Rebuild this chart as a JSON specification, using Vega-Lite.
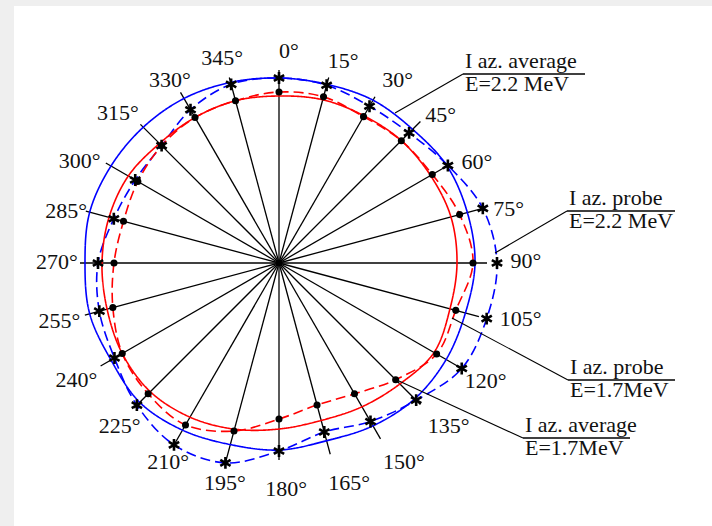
{
  "$schema": "https://vega.github.io/schema/vega-lite/v6.json",
  "width": 698,
  "height": 520,
  "autosize": {"type": "none"},
  "padding": {"left": 14, "top": 6, "right": 0, "bottom": 0},
  "background": "#efefef",
  "config": {"view": {"stroke": null, "fill": "white"}, "text": {"font": "Liberation Serif"}},
  "datasets": {
    "curves": [
      {"series":"avg 2.2","angle":0,"r":1.85},{"series":"avg 2.2","angle":15,"r":1.85},{"series":"avg 2.2","angle":30,"r":1.88},{"series":"avg 2.2","angle":45,"r":1.89},{"series":"avg 2.2","angle":60,"r":1.94},{"series":"avg 2.2","angle":75,"r":1.95},{"series":"avg 2.2","angle":90,"r":1.96},{"series":"avg 2.2","angle":105,"r":1.93},{"series":"avg 2.2","angle":120,"r":1.93},{"series":"avg 2.2","angle":135,"r":1.92},{"series":"avg 2.2","angle":150,"r":1.88},{"series":"avg 2.2","angle":165,"r":1.84},{"series":"avg 2.2","angle":180,"r":1.87},{"series":"avg 2.2","angle":195,"r":1.88},{"series":"avg 2.2","angle":210,"r":1.93},{"series":"avg 2.2","angle":225,"r":1.97},{"series":"avg 2.2","angle":240,"r":1.94},{"series":"avg 2.2","angle":255,"r":1.96},{"series":"avg 2.2","angle":270,"r":1.94},{"series":"avg 2.2","angle":285,"r":1.96},{"series":"avg 2.2","angle":300,"r":1.94},{"series":"avg 2.2","angle":315,"r":1.92},{"series":"avg 2.2","angle":330,"r":1.90},{"series":"avg 2.2","angle":345,"r":1.87},
      {"series":"probe 2.2","angle":0,"r":1.85},{"series":"probe 2.2","angle":15,"r":1.84},{"series":"probe 2.2","angle":30,"r":1.81},{"series":"probe 2.2","angle":45,"r":1.84},{"series":"probe 2.2","angle":60,"r":1.95},{"series":"probe 2.2","angle":75,"r":2.11},{"series":"probe 2.2","angle":90,"r":2.18},{"series":"probe 2.2","angle":105,"r":2.15},{"series":"probe 2.2","angle":120,"r":2.11},{"series":"probe 2.2","angle":135,"r":1.94},{"series":"probe 2.2","angle":150,"r":1.83},{"series":"probe 2.2","angle":165,"r":1.75},{"series":"probe 2.2","angle":180,"r":1.88},{"series":"probe 2.2","angle":195,"r":2.07},{"series":"probe 2.2","angle":210,"r":2.10},{"series":"probe 2.2","angle":225,"r":2.01},{"series":"probe 2.2","angle":240,"r":1.90},{"series":"probe 2.2","angle":255,"r":1.86},{"series":"probe 2.2","angle":270,"r":1.81},{"series":"probe 2.2","angle":285,"r":1.71},{"series":"probe 2.2","angle":300,"r":1.66},{"series":"probe 2.2","angle":315,"r":1.66},{"series":"probe 2.2","angle":330,"r":1.77},{"series":"probe 2.2","angle":345,"r":1.85},
      {"series":"avg 1.7","angle":0,"r":1.67},{"series":"avg 1.7","angle":15,"r":1.69},{"series":"avg 1.7","angle":30,"r":1.70},{"series":"avg 1.7","angle":45,"r":1.73},{"series":"avg 1.7","angle":60,"r":1.75},{"series":"avg 1.7","angle":75,"r":1.78},{"series":"avg 1.7","angle":90,"r":1.78},{"series":"avg 1.7","angle":105,"r":1.77},{"series":"avg 1.7","angle":120,"r":1.79},{"series":"avg 1.7","angle":135,"r":1.71},{"series":"avg 1.7","angle":150,"r":1.66},{"series":"avg 1.7","angle":165,"r":1.63},{"series":"avg 1.7","angle":180,"r":1.66},{"series":"avg 1.7","angle":195,"r":1.72},{"series":"avg 1.7","angle":210,"r":1.78},{"series":"avg 1.7","angle":225,"r":1.82},{"series":"avg 1.7","angle":240,"r":1.81},{"series":"avg 1.7","angle":255,"r":1.78},{"series":"avg 1.7","angle":270,"r":1.77},{"series":"avg 1.7","angle":285,"r":1.76},{"series":"avg 1.7","angle":300,"r":1.74},{"series":"avg 1.7","angle":315,"r":1.69},{"series":"avg 1.7","angle":330,"r":1.68},{"series":"avg 1.7","angle":345,"r":1.68},
      {"series":"probe 1.7","angle":0,"r":1.71},{"series":"probe 1.7","angle":15,"r":1.72},{"series":"probe 1.7","angle":30,"r":1.69},{"series":"probe 1.7","angle":45,"r":1.73},{"series":"probe 1.7","angle":60,"r":1.77},{"series":"probe 1.7","angle":75,"r":1.87},{"series":"probe 1.7","angle":90,"r":1.94},{"series":"probe 1.7","angle":105,"r":1.83},{"series":"probe 1.7","angle":120,"r":1.82},{"series":"probe 1.7","angle":135,"r":1.65},{"series":"probe 1.7","angle":150,"r":1.51},{"series":"probe 1.7","angle":165,"r":1.47},{"series":"probe 1.7","angle":180,"r":1.56},{"series":"probe 1.7","angle":195,"r":1.74},{"series":"probe 1.7","angle":210,"r":1.87},{"series":"probe 1.7","angle":225,"r":1.85},{"series":"probe 1.7","angle":240,"r":1.81},{"series":"probe 1.7","angle":255,"r":1.72},{"series":"probe 1.7","angle":270,"r":1.65},{"series":"probe 1.7","angle":285,"r":1.61},{"series":"probe 1.7","angle":300,"r":1.63},{"series":"probe 1.7","angle":315,"r":1.66},{"series":"probe 1.7","angle":330,"r":1.68},{"series":"probe 1.7","angle":345,"r":1.68}
    ],
    "spokes": [
      {"angle":0,"len":1.93,"label":"0°","labelAngle":2.7,"labelR":2.12},
      {"angle":15,"len":1.92,"label":"15°","labelAngle":17.6,"labelR":2.12},
      {"angle":30,"len":1.92,"label":"30°","labelAngle":33.0,"labelR":2.18},
      {"angle":45,"len":2.00,"label":"45°","labelAngle":47.6,"labelR":2.19},
      {"angle":60,"len":2.00,"label":"60°","labelAngle":63.0,"labelR":2.22},
      {"angle":75,"len":2.12,"label":"75°","labelAngle":76.8,"labelR":2.36},
      {"angle":90,"len":2.08,"label":"90°","labelAngle":89.5,"labelR":2.47},
      {"angle":105,"len":2.07,"label":"105°","labelAngle":103.0,"labelR":2.48},
      {"angle":120,"len":2.13,"label":"120°","labelAngle":119.7,"labelR":2.38},
      {"angle":135,"len":2.00,"label":"135°","labelAngle":133.8,"labelR":2.35},
      {"angle":150,"len":2.03,"label":"150°","labelAngle":147.9,"labelR":2.35},
      {"angle":165,"len":1.98,"label":"165°","labelAngle":162.3,"labelR":2.31},
      {"angle":180,"len":1.97,"label":"180°","labelAngle":178.2,"labelR":2.26},
      {"angle":195,"len":2.07,"label":"195°","labelAngle":193.8,"labelR":2.27},
      {"angle":210,"len":2.11,"label":"210°","labelAngle":209.1,"labelR":2.28},
      {"angle":225,"len":2.05,"label":"225°","labelAngle":224.3,"labelR":2.28},
      {"angle":240,"len":2.06,"label":"240°","labelAngle":240.0,"labelR":2.34},
      {"angle":255,"len":2.01,"label":"255°","labelAngle":255.2,"labelR":2.27},
      {"angle":270,"len":1.99,"label":"270°","labelAngle":270.3,"labelR":2.22},
      {"angle":285,"len":2.00,"label":"285°","labelAngle":283.7,"labelR":2.19},
      {"angle":300,"len":2.00,"label":"300°","labelAngle":297.1,"labelR":2.24},
      {"angle":315,"len":1.96,"label":"315°","labelAngle":312.9,"labelR":2.20},
      {"angle":330,"len":1.97,"label":"330°","labelAngle":329.2,"labelR":2.13},
      {"angle":345,"len":1.92,"label":"345°","labelAngle":344.5,"labelR":2.13}
    ],
    "notes": [
      {"top":"I az. average","bottom":"E=2.2 MeV","x0":1.16,"y0":1.50,"x1":1.84,"y1":1.89,"x2":3.06},
      {"top":"I az. probe","bottom":"E=2.2 MeV","x0":2.16,"y0":0.10,"x1":2.88,"y1":0.52,"x2":3.96},
      {"top":"I az. probe","bottom":"E=1.7MeV","x0":1.73,"y0":-0.55,"x1":2.89,"y1":-1.17,"x2":3.96},
      {"top":"I az. average","bottom":"E=1.7MeV","x0":1.20,"y0":-1.18,"x1":2.44,"y1":-1.75,"x2":3.51}
    ]
  },
  "layer": [
    {
      "data": {"name": "spokes"},
      "transform": [
        {"calculate": "datum.len*sin(datum.angle*PI/180)", "as": "x"},
        {"calculate": "datum.len*cos(datum.angle*PI/180)", "as": "y"}
      ],
      "mark": {"type": "rule", "color": "black", "strokeWidth": 1.3},
      "encoding": {
        "x": {"field": "x", "type": "quantitative", "scale": {"domain": [-2.65, 4.33], "nice": false, "zero": false}, "axis": null},
        "y": {"field": "y", "type": "quantitative", "scale": {"domain": [-2.63, 2.57], "nice": false, "zero": false}, "axis": null},
        "x2": {"datum": 0},
        "y2": {"datum": 0}
      }
    },
    {
      "data": {"name": "curves"},
      "transform": [
        {"calculate": "datum.r*sin(datum.angle*PI/180)", "as": "x"},
        {"calculate": "datum.r*cos(datum.angle*PI/180)", "as": "y"}
      ],
      "mark": {"type": "line", "interpolate": "cardinal-closed", "strokeWidth": 1.6},
      "encoding": {
        "x": {"field": "x", "type": "quantitative", "scale": {"domain": [-2.65, 4.33], "nice": false, "zero": false}, "axis": null},
        "y": {"field": "y", "type": "quantitative", "scale": {"domain": [-2.63, 2.57], "nice": false, "zero": false}, "axis": null},
        "order": {"field": "angle", "type": "quantitative"},
        "color": {"field": "series", "type": "nominal", "scale": {"domain": ["avg 2.2", "probe 2.2", "avg 1.7", "probe 1.7"], "range": ["#0000ff", "#0000ff", "#ff0000", "#ff0000"]}, "legend": null},
        "strokeDash": {"field": "series", "type": "nominal", "scale": {"domain": ["avg 2.2", "probe 2.2", "avg 1.7", "probe 1.7"], "range": [[1, 0], [10, 5], [1, 0], [10, 5]]}, "legend": null}
      }
    },
    {
      "data": {"name": "curves"},
      "transform": [
        {"filter": "datum.series === 'probe 2.2'"},
        {"calculate": "datum.r*sin(datum.angle*PI/180)", "as": "x"},
        {"calculate": "datum.r*cos(datum.angle*PI/180)", "as": "y"}
      ],
      "mark": {"type": "point", "shape": "M0,-1L0,1M-0.87,-0.5L0.87,0.5M-0.87,0.5L0.87,-0.5", "filled": false, "color": "black", "strokeWidth": 2.6, "size": 140, "opacity": 1},
      "encoding": {
        "x": {"field": "x", "type": "quantitative", "scale": {"domain": [-2.65, 4.33], "nice": false, "zero": false}, "axis": null},
        "y": {"field": "y", "type": "quantitative", "scale": {"domain": [-2.63, 2.57], "nice": false, "zero": false}, "axis": null}
      }
    },
    {
      "data": {"name": "curves"},
      "transform": [
        {"filter": "datum.series === 'probe 1.7'"},
        {"calculate": "datum.r*sin(datum.angle*PI/180)", "as": "x"},
        {"calculate": "datum.r*cos(datum.angle*PI/180)", "as": "y"}
      ],
      "mark": {"type": "circle", "color": "black", "size": 50, "opacity": 1},
      "encoding": {
        "x": {"field": "x", "type": "quantitative", "scale": {"domain": [-2.65, 4.33], "nice": false, "zero": false}, "axis": null},
        "y": {"field": "y", "type": "quantitative", "scale": {"domain": [-2.63, 2.57], "nice": false, "zero": false}, "axis": null}
      }
    },
    {
      "data": {"name": "spokes"},
      "transform": [
        {"calculate": "datum.labelR*sin(datum.labelAngle*PI/180)", "as": "x"},
        {"calculate": "datum.labelR*cos(datum.labelAngle*PI/180)", "as": "y"}
      ],
      "mark": {"type": "text", "fontSize": 22, "align": "center", "baseline": "middle", "color": "#111111"},
      "encoding": {
        "x": {"field": "x", "type": "quantitative", "scale": {"domain": [-2.65, 4.33], "nice": false, "zero": false}, "axis": null},
        "y": {"field": "y", "type": "quantitative", "scale": {"domain": [-2.63, 2.57], "nice": false, "zero": false}, "axis": null},
        "text": {"field": "label"}
      }
    },
    {
      "data": {"name": "notes"},
      "mark": {"type": "rule", "color": "black", "strokeWidth": 1.1},
      "encoding": {
        "x": {"field": "x0", "type": "quantitative", "scale": {"domain": [-2.65, 4.33], "nice": false, "zero": false}, "axis": null},
        "y": {"field": "y0", "type": "quantitative", "scale": {"domain": [-2.63, 2.57], "nice": false, "zero": false}, "axis": null},
        "x2": {"field": "x1"},
        "y2": {"field": "y1"}
      }
    },
    {
      "data": {"name": "notes"},
      "mark": {"type": "rule", "color": "black", "strokeWidth": 1.4},
      "encoding": {
        "x": {"field": "x1", "type": "quantitative", "scale": {"domain": [-2.65, 4.33], "nice": false, "zero": false}, "axis": null},
        "y": {"field": "y1", "type": "quantitative", "scale": {"domain": [-2.63, 2.57], "nice": false, "zero": false}, "axis": null},
        "x2": {"field": "x2"},
        "y2": {"field": "y1"}
      }
    },
    {
      "data": {"name": "notes"},
      "mark": {"type": "text", "fontSize": 22, "align": "left", "baseline": "alphabetic", "dx": 2, "dy": -6, "color": "#111111"},
      "encoding": {
        "x": {"field": "x1", "type": "quantitative", "scale": {"domain": [-2.65, 4.33], "nice": false, "zero": false}, "axis": null},
        "y": {"field": "y1", "type": "quantitative", "scale": {"domain": [-2.63, 2.57], "nice": false, "zero": false}, "axis": null},
        "text": {"field": "top"}
      }
    },
    {
      "data": {"name": "notes"},
      "mark": {"type": "text", "fontSize": 22, "align": "left", "baseline": "alphabetic", "dx": 2, "dy": 17, "color": "#111111"},
      "encoding": {
        "x": {"field": "x1", "type": "quantitative", "scale": {"domain": [-2.65, 4.33], "nice": false, "zero": false}, "axis": null},
        "y": {"field": "y1", "type": "quantitative", "scale": {"domain": [-2.63, 2.57], "nice": false, "zero": false}, "axis": null},
        "text": {"field": "bottom"}
      }
    }
  ]
}
